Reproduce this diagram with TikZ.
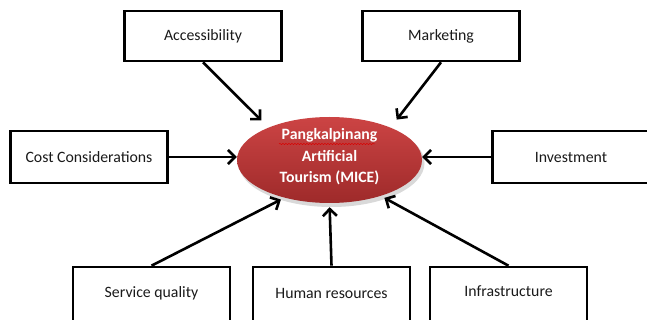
\documentclass[tikz,border=0pt]{standalone}
\usepackage{fontspec}
\setmainfont{Carlito}
\usetikzlibrary{arrows.meta,shapes.geometric,decorations.pathmorphing}
\definecolor{boxtext}{HTML}{1A1A1A}
\definecolor{redtop}{HTML}{CC4444}
\definecolor{redbot}{HTML}{9E2A2A}
\tikzset{
  factor/.style={draw=black, line width=2.6pt, fill=white, minimum width=157pt, minimum height=50pt, inner sep=0pt, text=boxtext, font=\fontsize{15.8}{18}\selectfont},
  lowbox/.style={factor, minimum height=64pt},
  lbl/.style={text=boxtext, font=\fontsize{15.8}{18}\selectfont, inner sep=0pt},
  conn/.style={line width=2.6pt, -{Straight Barb[length=7pt,width=14pt]}},
  core/.style={ellipse, minimum width=185pt, minimum height=86pt, inner sep=0pt, top color=redtop, bottom color=redbot, draw=none}
}
\begin{document}
\begin{tikzpicture}[x=1pt,y=-1pt]
\fill[white] (0,0) rectangle (647,320);
\clip (0,0) rectangle (647,320);
% central ellipse
\fill[black!15] (331.5,163) ellipse [x radius=93, y radius=44];
\node[core] (mice) at (329.5,160) {};
\node[text=white, font=\bfseries\fontsize{15.8}{21.5}\selectfont, align=center, inner sep=0pt] (micetext) at (329.5,157) {Pangkalpinang\\Artificial\\Tourism (MICE)};
\coordinate (sqa) at (279,144);
\coordinate (sqb) at (375,144);
\draw[red!85!black, line width=0.5pt, decorate, decoration={snake, amplitude=0.6pt, segment length=3pt}] (sqa) -- (sqb);
% boxes
\node[factor] (acc) at (203,36) {Accessibility};
\node[factor] (mkt) at (441,36) {Marketing};
\node[factor, minimum height=52pt] (cost) at (89,157) {Cost Considerations};
\node[factor, minimum height=52pt] (inv) at (571,157) {Investment};
\node[lowbox] (sq) at (151.5,299) {};
\node[lowbox] (hr) at (331.5,299) {};
\node[lowbox] (inf) at (508.5,299) {};
\node[lbl] (sqt) at (151.5,293) {Service quality};
\node[lbl] (hrt) at (331.5,293) {Human resources};
\node[lbl] (inft) at (508.5,291) {Infrastructure};
% connectors
\draw[conn, shorten >=10pt] (acc.south) -- (mice.152);
\draw[conn, shorten >=10pt] (mkt.south) -- (mice.28);
\draw[conn] (cost.east) -- (cost.east -| mice.west);
\draw[conn] (inv.west) -- (inv.west -| mice.east);
\draw[conn, shorten >=4pt] (sq.north) -- (mice.220);
\draw[conn, shorten >=4pt] (hr.north) -- (mice.south);
\draw[conn, shorten >=4pt] (inf.north) -- (mice.325);
\end{tikzpicture}
\end{document}
